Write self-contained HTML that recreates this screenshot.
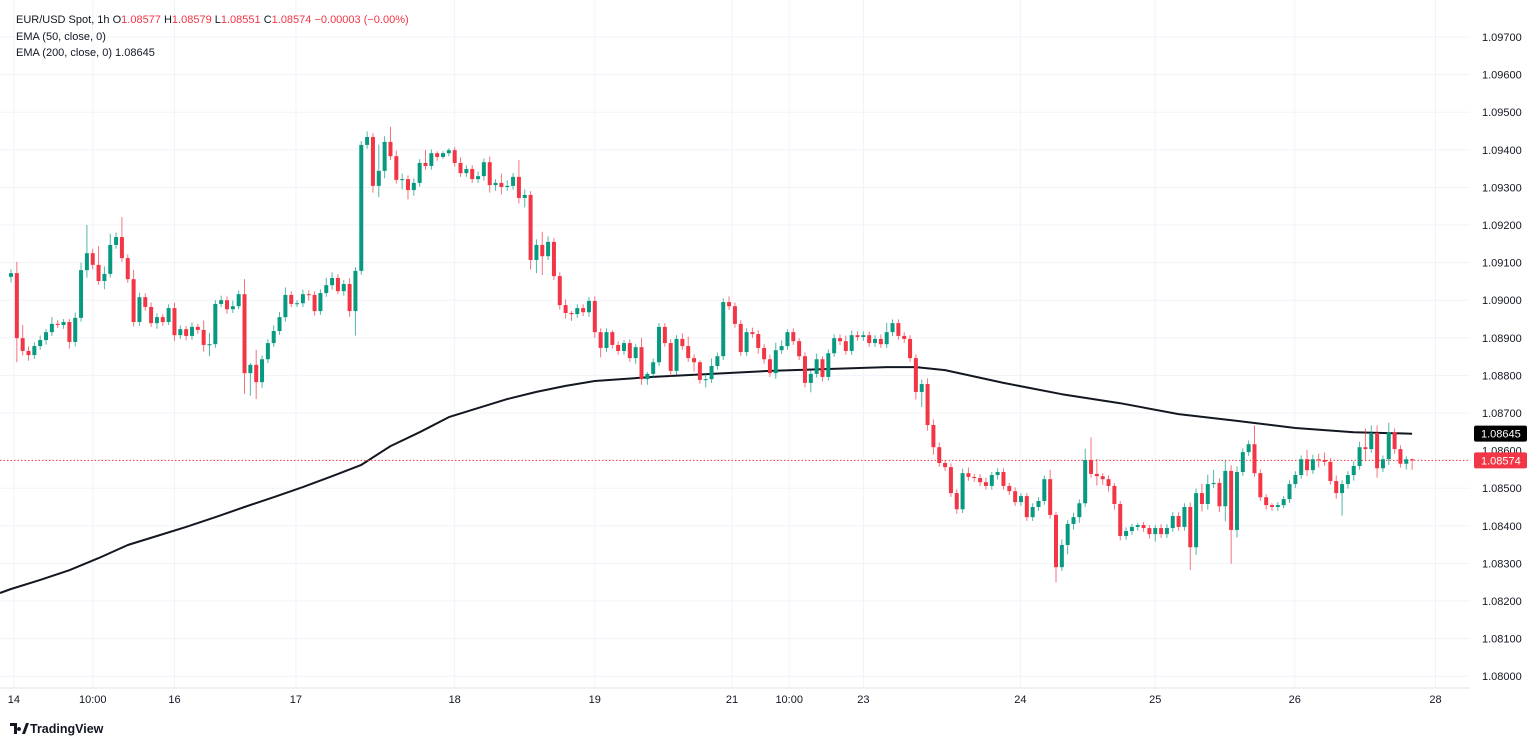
<!DOCTYPE html>
<html><head><meta charset="utf-8"><style>
html,body{margin:0;padding:0;background:#fff;}
svg{display:block;font-family:"Liberation Sans",sans-serif;}
</style></head><body>
<svg id="chart" width="1536" height="744" viewBox="0 0 1536 744">
<g id="grid"></g>
<line x1="0" y1="688" x2="1470" y2="688" stroke="#e0e3eb"/>
<g id="ema"></g>
<g id="candles"></g>
<g id="yaxis"></g>
<g id="xaxis"></g>
<g font-size="11" fill="#131722">
<text x="16" y="23">EUR/USD Spot, 1h  O<tspan fill="#f23645">1.08577</tspan>  H<tspan fill="#f23645">1.08579</tspan>  L<tspan fill="#f23645">1.08551</tspan>  C<tspan fill="#f23645">1.08574</tspan>  <tspan fill="#f23645">−0.00003 (−0.00%)</tspan></text>
<text x="16" y="40">EMA (50, close, 0)</text>
<text x="16" y="56">EMA (200, close, 0)  1.08645</text>
</g>
<g>
<path d="M10 723 h7 v11 h-3 v-8 h-4 z M19 727 a2 2 0 1 0 0.01 0 z M22 734 l4 -11 h3 l-4 11 z" fill="#131722"/>
<text x="30" y="733" font-size="12.5" font-weight="bold" fill="#131722">TradingView</text>
</g>
</svg>
<script>
const closes=[1.09072,1.08899,1.08865,1.08854,1.08878,1.08894,1.08915,1.08937,1.08934,1.08942,
1.08889,1.08953,1.09080,1.09125,1.09094,1.09051,1.09070,1.09147,1.09168,1.09112,
1.09056,1.08942,1.09008,1.08982,1.08939,1.08955,1.08942,1.08979,1.08907,1.08923,
1.08905,1.08929,1.08921,1.08881,1.08883,1.08990,1.09000,1.08976,1.08984,1.09016,
1.08806,1.08828,1.08782,1.08843,1.08886,1.08918,1.08955,1.09014,1.08990,1.08992,
1.09016,1.09014,1.08971,1.09019,1.09040,1.09059,1.09024,1.09043,1.08971,1.09078,
1.09413,1.09434,1.09304,1.09344,1.09421,1.09383,1.09320,1.09322,1.09293,1.09312,
1.09365,1.09357,1.09391,1.09381,1.09391,1.09399,1.09365,1.09338,1.09349,1.09322,
1.09330,1.09367,1.09306,1.09312,1.09301,1.09304,1.09328,1.09272,1.09280,1.09107,
1.09147,1.09117,1.09155,1.09064,1.08987,1.08966,1.08963,1.08979,1.08968,1.08998,
1.08915,1.08873,1.08915,1.08881,1.08865,1.08886,1.08846,1.08875,1.08790,1.08804,
1.08835,1.08929,1.08886,1.08812,1.08897,1.08878,1.08846,1.08835,1.08788,1.08790,
1.08825,1.08851,1.08995,1.08984,1.08937,1.08862,1.08915,1.08910,1.08873,1.08843,
1.08806,1.08867,1.08878,1.08915,1.08891,1.08851,1.08780,1.08804,1.08843,1.08796,
1.08859,1.08899,1.08891,1.08865,1.08907,1.08902,1.08907,1.08886,1.08897,1.08883,
1.08915,1.08939,1.08905,1.08897,1.08846,1.08756,1.08777,1.08668,1.08609,1.08567,
1.08556,1.08487,1.08444,1.08540,1.08530,1.08527,1.08516,1.08506,1.08535,1.08543,
1.08506,1.08492,1.08463,1.08479,1.08423,1.08450,1.08466,1.08524,1.08429,1.08290,
1.08349,1.08405,1.08423,1.08460,1.08575,1.08538,1.08532,1.08524,1.08506,1.08458,
1.08373,1.08386,1.08397,1.08402,1.08394,1.08378,1.08394,1.08378,1.08394,1.08426,
1.08397,1.08450,1.08343,1.08487,1.08458,1.08511,1.08514,1.08452,1.08546,1.08389,
1.08543,1.08596,1.08617,1.08540,1.08476,1.08455,1.08450,1.08455,1.08471,1.08511,
1.08535,1.08577,1.08548,1.08577,1.08575,1.08570,1.08519,1.08487,1.08511,1.08535,
1.08559,1.08609,1.08604,1.08647,1.08553,1.08577,1.08649,1.08604,1.08565,1.08577,
1.08574];
const firstOpen=1.09062;
const wickHi=[10,30,35,12,10,12,8,18,10,8, 8,14,20,75,12,50,20,30,12,53, 10,25,12,10,12,10,8,10,14,10,
8,12,8,25,30,10,12,10,15,10, 40,5,40,10,10,15,14,20,10,8, 12,10,10,10,20,15,10,10,15,10,
10,15,10,70,15,40,15,15,10,12, 10,35,10,5,5,5,8,15,10,10, 12,10,15,10,25,15,10,45,15,10,
15,35,15,10,10,15,5,10,10,10, 12,10,10,5,10,8,10,8,25,5, 10,10,10,10,10,15,25,10,5,15,
20,10,10,15,10,10,10,12,10,10, 12,20,15,8,10,8,10,10,15,8, 10,10,10,15,12,10,10,10,10,12,
25,10,10,10,10,10,12,15,15,12, 8,10,10,12,15,8,10,12,8,10, 10,8,10,8,8,10,10,10,25,8,
15,10,12,10,30,60,40,8,10,8, 8,10,8,5,8,8,8,10,10,10, 10,10,12,12,25,25,35,12,30,15,
15,10,10,50,10,8,5,8,8,10, 10,10,25,12,15,20,10,15,10,10, 12,15,50,20,20,10,25,10,10,8, 2];
const wickLo=[15,64,12,15,10,10,12,10,8,10, 18,12,10,20,12,10,22,10,10,10, 10,12,10,10,10,15,10,8,15,10,
12,10,10,18,30,10,8,12,10,8, 55,60,45,15,10,10,10,12,8,8, 10,15,12,10,10,12,8,12,15,65,
10,10,18,30,20,10,10,25,25,15, 10,10,10,10,5,8,10,10,10,10, 10,12,20,15,20,10,10,15,25,25,
35,50,10,10,12,15,18,10,10,12, 15,25,10,10,10,10,10,15,15,15, 10,10,10,15,10,10,10,25,10,20,
10,10,10,10,10,10,10,10,15,12, 10,15,10,10,10,10,12,25,10,12, 10,10,10,10,10,10,10,10,10,10,
10,10,10,10,10,20,40,15,20,10, 10,10,12,10,10,10,10,10,10,12, 10,10,10,10,10,10,10,10,10,40,
10,25,15,15,10,10,25,15,15,15, 12,10,10,10,10,12,20,10,10,10, 10,10,60,20,20,15,10,15,40,90,
20,10,10,10,10,12,10,10,8,10, 10,10,15,10,20,10,10,15,60,12, 15,10,30,10,25,10,15,12,10,15, 25];
const emaIdx=[0,5,10,15,20,25,30,35,40,45,50,55,60,65,70,75,80,85,90,95,100,110,120,130,140,150,155,160,170,180,190,200,210,220,230,240];
const emaVal=[1.08232,1.08256,1.08282,1.08314,1.08349,1.08373,1.08397,1.08423,1.08450,1.08476,1.08503,1.08532,1.08562,1.08612,1.08649,1.08689,1.08713,1.08737,1.08756,1.08772,1.08785,1.08796,1.08804,1.08812,1.08817,1.08822,1.08822,1.08814,1.08780,1.08750,1.08726,1.08697,1.08679,1.08660,1.08649,1.08645];
const priceTicks=[1.0970,1.0960,1.0950,1.0940,1.0930,1.0920,1.0910,1.0900,1.0890,1.0880,1.0870,1.0850,1.0840,1.0830,1.0820,1.0810,1.0800];
const timeLabels=["14","10:00","16","17","18","19","21","10:00","23","24","25","26","28"];
const timeIdx=[0.5,14,28,48.8,76,100,123.5,133.3,146,172.9,196,219.9,244];
const lastPrice=1.08574, emaLast=1.08645;

const NS="http://www.w3.org/2000/svg";
const Y=p=>37+(1.0970-p)*37600;
const X=i=>11+i*5.838;
function mk(tag,attrs,parent){const e=document.createElementNS(NS,tag);for(const k in attrs)e.setAttribute(k,attrs[k]);parent.appendChild(e);return e;}
const grid=document.getElementById('grid'),yaxis=document.getElementById('yaxis'),xaxis=document.getElementById('xaxis');
priceTicks.forEach(p=>{
  const l=mk('line',{x1:0,x2:1470,y1:Y(p),y2:Y(p),stroke:'#f0f3fa'},grid);
  
  
  const t=mk('text',{x:1482,y:Y(p)+4,'font-size':11,fill:'#131722'},yaxis);
  t.textContent=p.toFixed(5);
  
  
});
{const t=mk('text',{x:1482,y:Y(1.0860)+4,'font-size':11,fill:'#131722'},yaxis);t.textContent='1.08600';

}
timeLabels.forEach((s,k)=>{
  const x=X(timeIdx[k]);
  const l=mk('line',{x1:x,x2:x,y1:0,y2:688,stroke:'#f0f3fa'},grid);
  
  
  const t=mk('text',{x:x,y:703,'font-size':11,fill:'#131722','text-anchor':'middle'},xaxis);
  t.textContent=s;
  
  
});
const cg=document.getElementById('candles');
const dl=mk('line',{x1:0,x2:1470,y1:Y(lastPrice),y2:Y(lastPrice),stroke:'#f23645','stroke-dasharray':'1.5,2','stroke-width':1},cg);


closes.forEach((c,i)=>{
  const o=i===0?firstOpen:closes[i-1];
  const up=c>=o, col=up?'#089981':'#f23645';
  const x=X(i), hi=Math.max(o,c)+wickHi[i]/100000, lo=Math.min(o,c)-wickLo[i]/100000;
  const g=mk('g',{},cg);
  
  
  mk('line',{x1:x,x2:x,y1:Y(hi),y2:Y(lo),stroke:col,'stroke-width':1,'stroke-opacity':0.7},g);
  const top=Y(Math.max(o,c)),h=Math.max(1,Y(Math.min(o,c))-top);
  mk('rect',{x:x-2,y:top,width:4,height:h,fill:col},g);
});
const eg=document.getElementById('ema');
const pts=emaIdx.map((ix,k)=>X(ix).toFixed(1)+','+Y(emaVal[k]).toFixed(1));
pts.unshift('0,'+(Y(emaVal[0])+4).toFixed(1));
const pl=mk('polyline',{points:pts.join(' '),fill:'none',stroke:'#131722','stroke-width':2,'stroke-linejoin':'round'},eg);


function tag(p,bg,name){
  const y=Y(p);
  const r=mk('rect',{x:1474,y:y-8,width:53,height:16,rx:2,fill:bg},yaxis);
  
  
  const t=mk('text',{x:1481,y:y+4,'font-size':11,fill:'#fff'},yaxis);
  t.textContent=p.toFixed(5);
  
  
}
tag(emaLast,'#000000','ema-price-tag');
tag(lastPrice,'#f23645','last-price-tag');
</script>
</body></html>
